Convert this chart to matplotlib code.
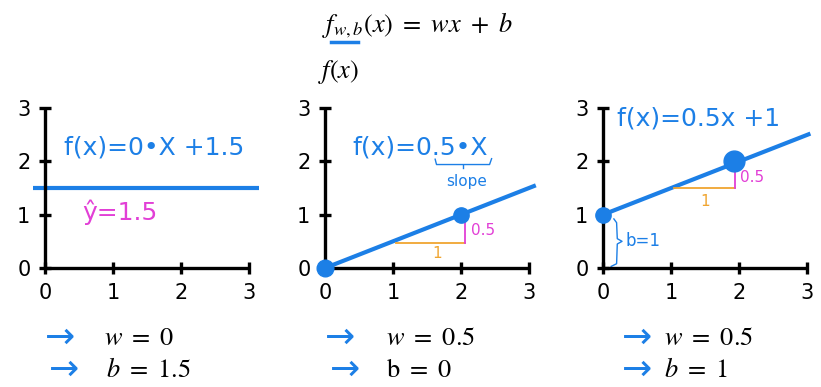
import matplotlib.pyplot as plt

plt.rcParams['mathtext.fontset'] = 'stix'

BLUE = '#1c7fe6'
PINK = '#e23fd6'
ORANGE = '#f0a530'

ticks = [0, 1, 2, 3]

# the three models f(x) = w*x + b
w_vals = ['0', '0.5', '0.5']
b_vals = ['1.5', '0', '1']

# line ends
line_x = [[-0.17, 3.15], [-0.1, 3.1], [0.0, 3.05]]
line_y = [[1.5, 1.5], [-0.05, 1.55], [1.0, 2.52]]

# highlighted points
pts_x = [[], [0, 2], [0, 1.92]]
pts_y = [[], [0, 1], [1, 2]]
pts_size = [[], [12, 11], [11, 15]]

# slope triangles: run from (x0, y0) to (x1, y0), rise up to y1
tri = [None, (1.05, 2.06, 0.47, 0.92), (1.05, 1.94, 1.5, 1.95)]

fig = plt.figure(figsize=(8.21, 3.87), dpi=100)

lefts = [45, 325, 603]
axes = []
for i in range(3):
    ax = fig.add_axes([lefts[i] / 821, 1 - 268 / 387, 204 / 821, 160 / 387])
    ax.set_xlim(0, 3)
    ax.set_ylim(0, 3)
    ax.set_xticks(ticks)
    ax.set_yticks(ticks)
    for s in ['top', 'right']:
        ax.spines[s].set_visible(False)
    for s in ['left', 'bottom']:
        ax.spines[s].set_linewidth(2.4)
        ax.spines[s].set_capstyle('butt')
    ax.tick_params(direction='inout', length=9, width=2.4, labelsize=15, pad=6)
    ax.patch.set_visible(False)

    ax.plot(line_x[i], line_y[i], color=BLUE, lw=3, clip_on=False, solid_capstyle='butt')
    for px, py, ms in zip(pts_x[i], pts_y[i], pts_size[i]):
        ax.plot(px, py, 'o', color=BLUE, ms=ms, clip_on=False, zorder=5)
    if tri[i] is not None:
        x0, x1, y0, y1 = tri[i]
        ax.plot([x0, x1], [y0, y0], color=ORANGE, lw=1.3)
        ax.plot([x1, x1], [y0, y1], color=PINK, lw=1.3)
    axes.append(ax)

hand = dict(family='DejaVu Sans', color=BLUE)

# panel 1
ax = axes[0]
ax.text(0.28, 2.25, 'f(x)=0•X +1.5', fontsize=18, va='center', **hand)
ax.text(0.55, 1.05, 'ŷ=1.5', fontsize=18, va='center', color=PINK, family='DejaVu Sans')

# panel 2
ax = axes[1]
ax.text(0.4, 2.25, 'f(x)=0.5•X', fontsize=18, va='center', **hand)
ax.plot([1.62, 1.64, 2.42, 2.45], [2.04, 1.94, 1.94, 2.05], color=BLUE, lw=1)
ax.plot([2.03, 2.03], [1.94, 1.88], color=BLUE, lw=1)
ax.text(2.08, 1.62, 'slope', fontsize=11, ha='center', va='center', **hand)
ax.text(1.65, 0.28, '1', fontsize=11, ha='center', va='center', color=ORANGE)
ax.text(2.15, 0.7, '0.5', fontsize=11, ha='left', va='center', color=PINK)

# panel 3
ax = axes[2]
ax.text(0.2, 2.8, 'f(x)=0.5x +1', fontsize=18, va='center', **hand)
ax.text(1.5, 1.25, '1', fontsize=11, ha='center', va='center', color=ORANGE)
ax.text(2.02, 1.7, '0.5', fontsize=11, ha='left', va='center', color=PINK)
ax.plot([0.16, 0.2, 0.21, 0.28, 0.21, 0.2, 0.12],
        [0.92, 0.85, 0.55, 0.5, 0.45, 0.08, 0.03], color=BLUE, lw=1)
ax.text(0.33, 0.5, 'b=1', fontsize=12, va='center', **hand)

# title lines
fig.text(322 / 821, 1 - 25 / 387, r'$f_{w,b}(x)\ =\ wx\ +\ b$', fontsize=19, va='center')
fig.add_artist(plt.Line2D([331 / 821, 358 / 821], [1 - 42 / 387, 1 - 42 / 387],
                          color=BLUE, lw=2.5))
fig.text(318 / 821, 1 - 72 / 387, r'$f(x)$', fontsize=19, va='center')

# parameter lists
arrow_x = [[60, 64], [340, 345], [637, 637]]
text_x = [[104, 106], [386, 386], [664, 664]]
rows_y = [338, 370]
for c in range(3):
    b_txt = r'$\mathrm{b}\ =\ %s$' % b_vals[c] if c == 1 else r'$b\ =\ %s$' % b_vals[c]
    for r, txt in enumerate([r'$w\ =\ %s$' % w_vals[c], b_txt]):
        fig.text(arrow_x[c][r] / 821, 1 - rows_y[r] / 387, '→', fontsize=26,
                 ha='center', va='center', color=BLUE)
        fig.text(text_x[c][r] / 821, 1 - rows_y[r] / 387, txt, fontsize=19,
                 va='center')

fig.savefig('out.png', dpi=100)
